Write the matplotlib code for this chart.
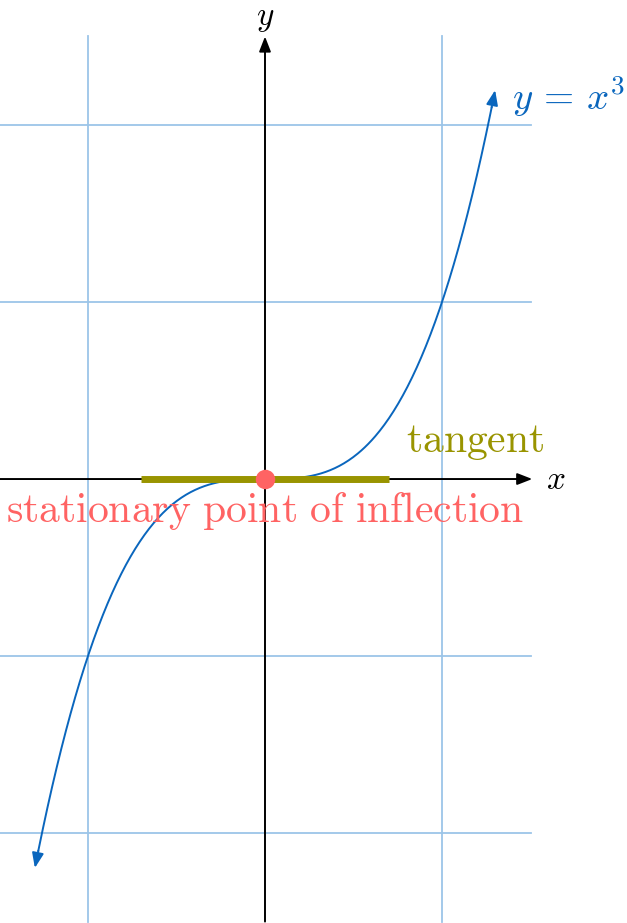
import numpy as np
import matplotlib.pyplot as plt
from matplotlib.patches import FancyArrowPatch

plt.rcParams["mathtext.fontset"] = "cm"

# grid and axis extents (data units)
grid_x = [-1, 0, 1]
grid_y = [-2, -1, 1, 2]
x_range = [-1.5, 1.5]
y_range = [-2.5, 2.5]

# curve y = x^3 drawn between these x values
curve_ends = [-1.30, 1.30]
tangent_ends = [-0.7, 0.7]
point = (0, 0)

blue = "#0a66bd"
grid_col = "#9cc5e8"
olive = "#999400"
red = "#ff6363"

fig = plt.figure(figsize=(6.27, 9.23), dpi=100)
ax = fig.add_axes([0, 0, 1, 1])
ax.set_xlim(-1.497, 2.045)
ax.set_ylim(-2.508, 2.706)
ax.axis("off")

# grid
for gx in grid_x:
    if gx != 0:
        ax.plot([gx, gx], y_range, color=grid_col, lw=1.3, zorder=1)
for gy in grid_y:
    ax.plot(x_range, [gy, gy], color=grid_col, lw=1.3, zorder=1)

# axes with arrows
ax.add_patch(FancyArrowPatch((x_range[0], 0), (x_range[1] + 0.01, 0),
                             arrowstyle="-|>,head_length=9,head_width=3.5",
                             mutation_scale=1, color="black", lw=1.4,
                             shrinkA=0, shrinkB=0, zorder=2))
ax.add_patch(FancyArrowPatch((0, y_range[0]), (0, y_range[1]),
                             arrowstyle="-|>,head_length=9,head_width=3.5",
                             mutation_scale=1, color="black", lw=1.4,
                             shrinkA=0, shrinkB=0, zorder=2))

# curve
xs = np.linspace(curve_ends[0], curve_ends[1], 400)
ys = xs ** 3
ax.plot(xs[3:-3], ys[3:-3], color=blue, lw=1.4, zorder=3)
for i0, i1 in [(3, 0), (-4, -1)]:
    ax.add_patch(FancyArrowPatch((xs[i0], ys[i0]), (xs[i1], ys[i1]),
                                 arrowstyle="-|>,head_length=9,head_width=3.5",
                                 mutation_scale=1, color=blue, lw=1.4,
                                 shrinkA=0, shrinkB=0, zorder=3))

# tangent and point
ax.plot(tangent_ends, [0, 0], color=olive, lw=5, solid_capstyle="butt", zorder=4)
ax.plot(*point, "o", color=red, ms=14, mec="none", zorder=5)

# labels
ax.text(0, 2.70, r"$y$", fontsize=24, ha="center", va="top")
ax.text(1.64, 0, r"$x$", fontsize=24, ha="center", va="center")
ax.text(1.186, 0.215, r"$\mathrm{tangent}$", fontsize=30, color=olive,
        ha="center", va="center")
ax.text(0, -0.18, r"$\mathrm{stationary\ point\ of\ inflection}$", fontsize=30,
        color=red, ha="center", va="center")
ax.text(1.395, 2.16, r"$y\,=\,x^3$", fontsize=28, color=blue, ha="left", va="center")

fig.savefig("out.png", dpi=100)
